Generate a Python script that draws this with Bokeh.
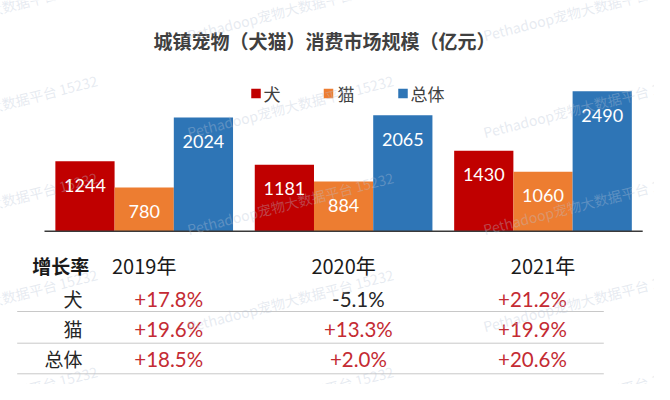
from bokeh.plotting import figure
from bokeh.models import Range1d, ColumnDataSource
from bokeh.core.properties import value
from bokeh.embed import file_html
from bokeh.resources import INLINE

# ---------------- data ----------------
title_text = "城镇宠物（犬猫）消费市场规模（亿元）"
years = ["2019年", "2020年", "2021年"]
series_names = ["犬", "猫", "总体"]
dog = [1244, 1181, 1430]
cat = [780, 884, 1060]
total = [2024, 2065, 2490]
table_header = "增长率"
row_labels = ["犬", "猫", "总体"]
dog_growth = ["+17.8%", "-5.1%", "+21.2%"]
cat_growth = ["+19.6%", "+13.3%", "+19.9%"]
total_growth = ["+18.5%", "+2.0%", "+20.6%"]
watermark = "Pethadoop宠物大数据平台 15232"

# ---------------- layout helpers (page pixels -> data) ----------------
X0, U = 143.7, 199.4      # page x of first group centre, px per group
Y0, K = 230.7, 17.8       # page y of baseline, value units per px
def dx(px):
    return (px - X0) / U
def dy(py):
    return (Y0 - py) * K

colors = ["#C00000", "#ED7D31", "#2E75B6"]
CJK = value("Noto Sans CJK SC")
NUM = value("Lato")
BAR_W = 0.297
W, H = 654, 384

p = figure(width=W, height=H,
           x_range=Range1d(dx(0), dx(W)), y_range=Range1d(dy(H), dy(0)),
           output_backend="svg", toolbar_location=None,
           x_axis_location=None, y_axis_location=None,
           min_border=0, min_border_left=0, min_border_right=0,
           min_border_top=0, min_border_bottom=0)
p.outline_line_color = None
p.xgrid.visible = False
p.ygrid.visible = False
p.background_fill_color = "white"
p.border_fill_color = "white"

# ---------------- bars ----------------
for s, vals in enumerate([dog, cat, total]):
    xs = [i + (s - 1) * BAR_W for i in range(len(vals))]
    src = ColumnDataSource(dict(x=xs, top=vals, lab=[str(v) for v in vals]))
    p.vbar(x="x", top="top", bottom=0, width=BAR_W, source=src,
           fill_color=colors[s], line_color=None)
    p.text(x="x", y="top", text="lab", source=src, y_offset=24,
           text_font=NUM, text_font_size="18px", text_color="white",
           text_align="center", text_baseline="middle")

# baseline
p.segment(x0=[-0.5], x1=[2.5], y0=[0], y1=[0], line_color="#3a3a3a", line_width=1.6)

# ---------------- title ----------------
p.text(x=[dx(324)], y=[dy(40)], text=[title_text], text_font=CJK,
       text_font_size="19px", text_font_style="bold", text_color="#404040",
       text_align="center", text_baseline="middle")

# ---------------- legend ----------------
leg_sq = [255.5, 328.0, 402.5]
leg_tx = [263.0, 337.0, 410.0]
p.scatter(x=[dx(v) for v in leg_sq], y=[dy(93)] * 3, marker="square", size=9.5,
          fill_color=colors, line_color=None)
p.text(x=[dx(v) for v in leg_tx], y=[dy(93)] * 3, text=series_names,
       text_font=CJK, text_font_size="17px", text_color="#404040",
       text_align="left", text_baseline="middle")

# ---------------- table ----------------
header_y = 265
row_y = [298, 328, 358]
sep_y = [311, 342.7, 373.3]
val_dx = [0.123, 0.074, -0.053]

p.text(x=[dx(31.7)], y=[dy(header_y)], text=[table_header], text_font=CJK,
       text_font_size="19px", text_font_style="bold", text_color="#1a1a1a",
       text_align="left", text_baseline="middle")
p.text(x=list(range(len(years))), y=[dy(header_y)] * 3, text=years, text_font=CJK,
       text_font_size="20px", text_color="#1a1a1a",
       text_align="center", text_baseline="middle")
p.text(x=[dx(82)] * 3, y=[dy(v) for v in row_y], text=row_labels, text_font=CJK,
       text_font_size="19px", text_color="#262626",
       text_align="right", text_baseline="middle")

for r, row in enumerate([dog_growth, cat_growth, total_growth]):
    xs = [i + val_dx[i] for i in range(len(row))]
    cols = ["#262626" if v.startswith("-") else "#C42B33" for v in row]
    p.text(x=xs, y=[dy(row_y[r])] * len(row), text=row, text_font=NUM,
           text_font_size="20.5px", text_color=cols,
           text_align="center", text_baseline="middle")

p.segment(x0=[dx(16.7)] * 3, x1=[dx(603.3)] * 3,
          y0=[dy(v) for v in sep_y], y1=[dy(v) for v in sep_y],
          line_color="#c8c8c8", line_width=1)

# ---------------- watermark ----------------
wm_x, wm_y = [], []
for sx in [-109, 187, 483]:
    for sy in [30, 127, 224, 321, 418]:
        wm_x.append(dx(sx))
        wm_y.append(dy(sy + 5))
p.text(x=wm_x, y=wm_y, text=[watermark] * len(wm_x), angle=0.25,
       text_font=CJK, text_font_size="14px", text_color="#b8c4d6", text_alpha=0.35,
       text_align="left", text_baseline="alphabetic")

open("out.html", "w").write(file_html(p, INLINE))
